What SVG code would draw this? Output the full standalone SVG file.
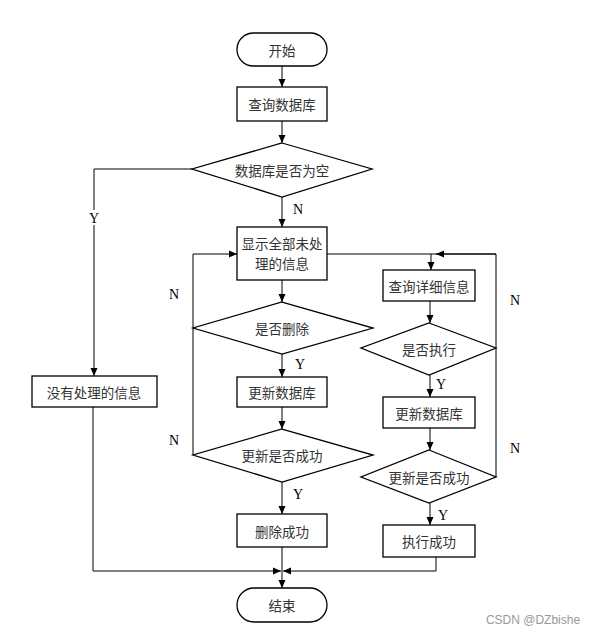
<svg xmlns="http://www.w3.org/2000/svg" width="592" height="635" viewBox="0 0 592 635">
<defs>
<marker id="ah" viewBox="0 0 8 8" refX="8" refY="4" markerWidth="8" markerHeight="8" markerUnits="userSpaceOnUse" orient="auto">
<path d="M0,0.5 L8,4 L0,7.5 Z" fill="#000"/>
</marker>
</defs>
<style>
.n{fill:#fff;stroke:#000;stroke-width:1.3}
.t{font-family:"Noto Sans CJK SC","Liberation Serif",serif;font-size:13.5px;fill:#333;text-anchor:middle;dominant-baseline:central}
.l{font-family:"Liberation Serif",serif;font-size:14px;fill:#000;text-anchor:middle;dominant-baseline:central}
.c{fill:none;stroke:#000;stroke-width:1}
.a{marker-end:url(#ah)}
</style>
<rect width="592" height="635" fill="#fff"/>
<g id="connectors">
<path class="c a" d="M282,66 L282,87"/>
<path class="c a" d="M282,121 L282,143"/>
<path class="c a" d="M282,197 L282,227"/>
<path class="c" d="M192,169 L94,169 L94,210"/>
<path class="c a" d="M94,225 L94,376"/>
<path class="c a" d="M282,280 L282,302"/>
<path class="c a" d="M282,354 L282,377"/>
<path class="c a" d="M282,407 L282,429"/>
<path class="c a" d="M282,482 L282,514"/>
<path class="c a" d="M282,547 L282,588"/>
<path class="c a" d="M193,455 L193,254 L237,254"/>
<path class="c" d="M327,254 L496,254 L496,477"/>
<path class="c a" d="M496,254 L436,254"/>
<path class="c a" d="M431,254 L431,270"/>
<path class="c a" d="M430,301 L430,323"/>
<path class="c a" d="M430,375 L430,397"/>
<path class="c a" d="M430,428 L430,450"/>
<path class="c a" d="M430,503 L430,525"/>
<path class="c a" d="M436,557 L436,571 L283,571"/>
<path class="c a" d="M93,407 L93,571 L281,571"/>
<text class="l" x="298" y="209">N</text>
<text class="l" x="94" y="218">Y</text>
<text class="l" x="300" y="364">Y</text>
<text class="l" x="298" y="494">Y</text>
<text class="l" x="174" y="294">N</text>
<text class="l" x="174" y="440">N</text>
<text class="l" x="441" y="384">Y</text>
<text class="l" x="443" y="515">Y</text>
<text class="l" x="515" y="300">N</text>
<text class="l" x="515" y="448">N</text>
</g>
<g id="start"><rect class="n" x="237" y="33" width="90" height="33" rx="16.5"/><text class="t" x="282" y="50">开始</text></g>
<g id="query-db"><rect class="n" x="237" y="87" width="90" height="34"/><text class="t" x="282" y="104">查询数据库</text></g>
<g id="db-empty"><polygon class="n" points="282,143 372,169 282,197 192,169"/><text class="t" x="282" y="170">数据库是否为空</text></g>
<g id="no-info"><rect class="n" x="32" y="376" width="125" height="31"/><text class="t" x="94" y="392">没有处理的信息</text></g>
<g id="show-all"><rect class="n" x="237" y="227" width="90" height="53"/><text class="t" x="282" y="243">显示全部未处</text><text class="t" x="282" y="263">理的信息</text></g>
<g id="is-delete"><polygon class="n" points="282,302 373,328 282,354 193,328"/><text class="t" x="282" y="328">是否删除</text></g>
<g id="update-db1"><rect class="n" x="237" y="377" width="90" height="30"/><text class="t" x="282" y="392">更新数据库</text></g>
<g id="update-ok1"><polygon class="n" points="282,429 373,455 282,482 193,455"/><text class="t" x="282" y="455">更新是否成功</text></g>
<g id="delete-ok"><rect class="n" x="237" y="514" width="90" height="33"/><text class="t" x="282" y="531">删除成功</text></g>
<g id="end"><rect class="n" x="237" y="588" width="90" height="34" rx="17"/><text class="t" x="282" y="605">结束</text></g>
<g id="query-detail"><rect class="n" x="383" y="270" width="92" height="31"/><text class="t" x="429" y="286">查询详细信息</text></g>
<g id="is-exec"><polygon class="n" points="429,323 496,348 429,375 361,348"/><text class="t" x="429" y="349">是否执行</text></g>
<g id="update-db2"><rect class="n" x="383" y="397" width="92" height="31"/><text class="t" x="429" y="413">更新数据库</text></g>
<g id="update-ok2"><polygon class="n" points="429,450 496,477 429,503 361,477"/><text class="t" x="429" y="477">更新是否成功</text></g>
<g id="exec-ok"><rect class="n" x="383" y="525" width="92" height="32"/><text class="t" x="429" y="541">执行成功</text></g>
<text x="533" y="620" style="font-family:'Liberation Sans',sans-serif;font-size:12px;fill:#999;text-anchor:middle;dominant-baseline:central">CSDN @DZbishe</text>
</svg>
